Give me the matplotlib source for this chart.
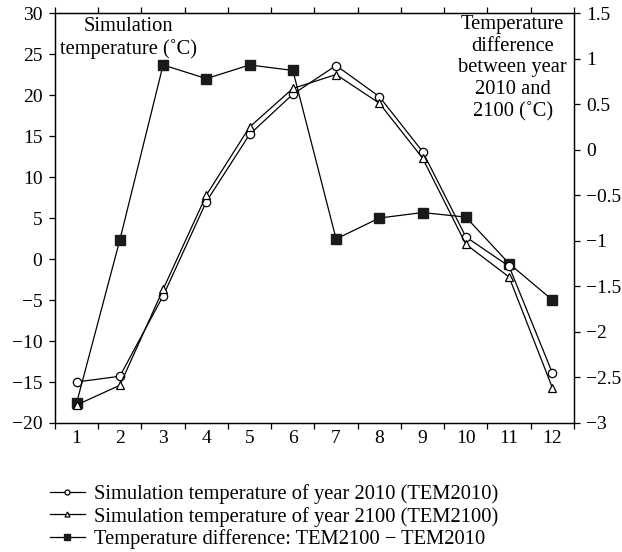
import matplotlib.pyplot as plt
import numpy as np

months = np.arange(1, 13)
tem2010 = [-15.0, -14.3, -4.5, 7.0, 15.2, 20.1, 23.6, 19.8, 13.1, 2.7, -0.9, -13.9]
tem2100 = [-17.8, -15.4, -3.7, 7.8, 16.1, 20.8, 22.5, 19.0, 12.3, 1.8, -2.2, -15.7]
diff = [-2.78, -0.99, 0.93, 0.78, 0.93, 0.87, -0.98, -0.75, -0.69, -0.74, -1.25, -1.65]

plt.rcParams['font.family'] = ['Liberation Serif', 'DejaVu Serif']
plt.rcParams['font.size'] = 14.8

fig = plt.figure(figsize=(6.22, 5.52), dpi=100)
ax = fig.add_axes([0.0884, 0.2337, 0.8344, 0.7427])
ax2 = ax.twinx()

l1, = ax.plot(months, tem2010, color='black', lw=0.9, marker='o', ms=6,
              mfc='white', mec='black', mew=0.9,
              label='Simulation temperature of year 2010 (TEM2010)')
l2, = ax.plot(months, tem2100, color='black', lw=0.9, marker='^', ms=6,
              mfc='white', mec='black', mew=0.9,
              label='Simulation temperature of year 2100 (TEM2100)')
l3, = ax2.plot(months, diff, color='black', lw=0.9, marker='s', ms=6.5,
               mfc='#1a1a1a', mec='#1a1a1a',
               label='Temperature difference: TEM2100 \u2212 TEM2010')
ax.set_zorder(ax2.get_zorder() + 1)
ax.patch.set_visible(False)

# x axis: labels at months, ticks at boundaries
ax.set_xlim(0.5, 12.5)
ax.set_xticks(months)
ax.set_xticklabels([str(m) for m in months])
ax.set_xticks(np.arange(0.5, 13, 1), minor=True)
ax.tick_params(axis='x', which='major', length=0, pad=5, labelsize=14)
ax.tick_params(axis='x', which='minor', length=4, width=0.9, direction='out',
               top=True)

ax.set_ylim(-20, 30)
ax.set_yticks(np.arange(-20, 31, 5))
ax.set_yticklabels([str(v).replace('-', '\u2212') for v in range(-20, 31, 5)])
ax.tick_params(axis='y', length=4, width=0.9, direction='out', pad=5, labelsize=14)

ax2.set_ylim(-3, 1.5)
rticks = np.arange(-3, 1.51, 0.5)
ax2.set_yticks(rticks)
ax2.set_yticklabels([('%g' % v).replace('-', '\u2212') for v in rticks])
ax2.tick_params(axis='y', length=4, width=0.9, direction='out', pad=5, labelsize=14)

for a in (ax, ax2):
    for s in a.spines.values():
        s.set_linewidth(0.9)

ax.text(0.142, 0.99, 'Simulation\ntemperature (\u02daC)', transform=ax.transAxes,
        ha='center', va='top', linespacing=1.2)
ax.text(0.882, 0.995, 'Temperature\ndifference\nbetween year\n2010 and\n2100 (\u02daC)',
        transform=ax.transAxes, ha='center', va='top', linespacing=1.19)

fig.legend(handles=[l1, l2, l3], loc='upper left', bbox_to_anchor=(0.08, 0.123),
           frameon=False, handlelength=1.7, handletextpad=0.45, labelspacing=0.13,
           markerscale=0.6, borderaxespad=0, borderpad=0)

fig.savefig('out.png', dpi=100)
